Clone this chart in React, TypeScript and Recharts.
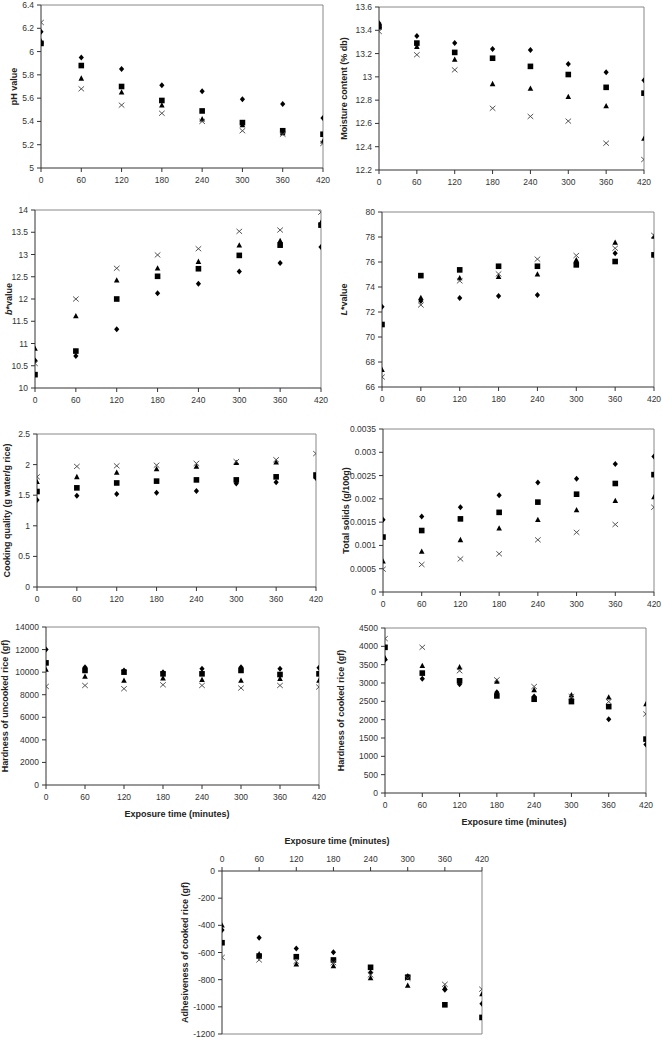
import React from 'react';
import { ScatterChart, Scatter, XAxis, YAxis, ReferenceLine } from 'recharts';

// ---------- data ----------
const TIME = [0, 60, 120, 180, 240, 300, 360, 420];

const phDiamond = [6.17, 5.95, 5.85, 5.71, 5.66, 5.59, 5.55, 5.43];
const phSquare = [6.07, 5.88, 5.7, 5.58, 5.49, 5.39, 5.32, 5.29];
const phTriangle = [6.09, 5.77, 5.65, 5.54, 5.42, 5.37, 5.3, 5.23];
const phCross = [6.25, 5.68, 5.54, 5.47, 5.4, 5.32, 5.29, 5.21];
const phTicks = [5, 5.2, 5.4, 5.6, 5.8, 6, 6.2, 6.4];

const mcDiamond = [13.46, 13.35, 13.29, 13.24, 13.23, 13.11, 13.04, 12.97];
const mcSquare = [13.43, 13.29, 13.21, 13.16, 13.09, 13.02, 12.91, 12.86];
const mcTriangle = [13.44, 13.26, 13.15, 12.94, 12.9, 12.83, 12.75, 12.47];
const mcCross = [13.39, 13.19, 13.06, 12.73, 12.66, 12.62, 12.43, 12.29];
const mcTicks = [12.2, 12.4, 12.6, 12.8, 13, 13.2, 13.4, 13.6];

const bDiamond = [10.62, 10.72, 11.32, 12.13, 12.34, 12.62, 12.81, 13.17];
const bSquare = [10.3, 10.83, 12.0, 12.51, 12.68, 12.98, 13.21, 13.66];
const bTriangle = [10.89, 11.62, 12.42, 12.69, 12.84, 13.21, 13.31, 13.72];
const bCross = [10.55, 12.0, 12.69, 12.99, 13.13, 13.52, 13.55, 13.95];
const bTicks = [10, 10.5, 11, 11.5, 12, 12.5, 13, 13.5, 14];

const lDiamond = [72.43, 72.88, 73.12, 73.28, 73.36, 75.9, 76.71, 76.57];
const lSquare = [71.0, 74.91, 75.37, 75.66, 75.66, 75.77, 76.04, 76.57];
const lTriangle = [67.39, 73.15, 74.73, 74.83, 75.02, 76.17, 77.56, 78.05];
const lCross = [66.8, 72.56, 74.49, 75.05, 76.23, 76.52, 77.1, 78.13];
const lTicks = [66, 68, 70, 72, 74, 76, 78, 80];

const cqDiamond = [1.42, 1.49, 1.52, 1.54, 1.57, 1.69, 1.71, 1.78];
const cqSquare = [1.56, 1.62, 1.7, 1.73, 1.75, 1.75, 1.8, 1.83];
const cqTriangle = [1.72, 1.8, 1.87, 1.93, 1.97, 2.03, 2.04, 1.81];
const cqCross = [1.8, 1.97, 1.98, 1.99, 2.02, 2.05, 2.08, 2.18];
const cqTicks = [0, 0.5, 1, 1.5, 2, 2.5];

const tsDiamond = [0.00155, 0.00162, 0.00182, 0.00208, 0.00235, 0.00243, 0.00275, 0.00291];
const tsSquare = [0.00118, 0.00132, 0.00157, 0.00171, 0.00193, 0.0021, 0.00233, 0.00252];
const tsTriangle = [0.00066, 0.00087, 0.00112, 0.00137, 0.00155, 0.00176, 0.00196, 0.00204];
const tsCross = [0.00049, 0.00059, 0.00071, 0.00082, 0.00112, 0.00128, 0.00145, 0.00182];
const tsTicks = [0, 0.0005, 0.001, 0.0015, 0.002, 0.0025, 0.003, 0.0035];

const huDiamond = [12000, 10440, 10150, 10000, 10290, 10440, 10290, 10380];
const huSquare = [10820, 10150, 10000, 9850, 9850, 10150, 9790, 9850];
const huTriangle = [10235, 9620, 9260, 9470, 9320, 9260, 9410, 9260];
const huCross = [8735, 8820, 8530, 8880, 8820, 8590, 8820, 8680];
const huTicks = [0, 2000, 4000, 6000, 8000, 10000, 12000, 14000];

const hcDiamond = [3635, 3114, 2968, 2749, 2630, 2539, 2009, 1324];
const hcSquare = [3973, 3270, 3059, 2648, 2557, 2493, 2356, 1470];
const hcTriangle = [3680, 3470, 3434, 3041, 2813, 2676, 2612, 2429];
const hcCross = [4210, 3973, 3333, 3087, 2904, 2630, 2493, 2155];
const hcTicks = [0, 500, 1000, 1500, 2000, 2500, 3000, 3500, 4000, 4500];

const adDiamond = [-435, -491, -570, -599, -748, -775, -875, -978];
const adSquare = [-528, -626, -631, -655, -709, -782, -985, -1078];
const adTriangle = [-399, -611, -687, -699, -787, -843, -860, -905];
const adCross = [-636, -655, -665, -675, -765, -790, -834, -870];
const adTicks = [-1200, -1000, -800, -600, -400, -200, 0];

// ---------- styling ----------
const FONT = '"Liberation Sans", Arial, sans-serif';
const tickStyle = { fontSize: 8.5, fill: '#333', fontFamily: FONT };
const titleStyle: React.CSSProperties = { fontSize: 9, fontWeight: 700, fill: '#222', fontFamily: FONT };

const DiamondShape = (p: any) => (
  <polygon
    points={`${p.cx},${p.cy - 3} ${p.cx + 2.6},${p.cy} ${p.cx},${p.cy + 3} ${p.cx - 2.6},${p.cy}`}
    fill="#000"
  />
);
const SquareShape = (p: any) => <rect x={p.cx - 2.8} y={p.cy - 2.8} width={5.6} height={5.6} fill="#000" />;
const TriangleShape = (p: any) => (
  <polygon points={`${p.cx},${p.cy - 3} ${p.cx + 2.8},${p.cy + 2.3} ${p.cx - 2.8},${p.cy + 2.3}`} fill="#000" />
);
const CrossShape = (p: any) => (
  <g stroke="#444" strokeWidth={0.9}>
    <line x1={p.cx - 2.8} y1={p.cy - 2.5} x2={p.cx + 2.8} y2={p.cy + 2.5} />
    <line x1={p.cx - 2.8} y1={p.cy + 2.5} x2={p.cx + 2.8} y2={p.cy - 2.5} />
  </g>
);

const toPts = (vals: number[]) => TIME.map((t, i) => ({ x: t, y: vals[i] }));

type PanelProps = {
  left: number;
  x0: number;
  x1: number;
  y0: number;
  y1: number;
  ticks: number[];
  title: React.ReactNode;
  titleX: number;
  series: number[][];
  xTitle?: string;
  xTitleX?: number;
  topAxis?: boolean;
};

function Panel({ left, x0, x1, y0, y1, ticks, title, titleX, series, xTitle, xTitleX, topAxis }: PanelProps) {
  const axisW = x0 - left;
  const width = x1 - left + 12;
  const height = y1 - y0 + 60;
  const chartTop = topAxis ? y0 - 40 : y0 - 20;
  const ymin = ticks[0];
  const ymax = ticks[ticks.length - 1];
  const cyTitle = (y0 + y1) / 2 - chartTop;
  const cxTitle = titleX - left;

  const yLabel = () => (
    <text
      x={cxTitle}
      y={cyTitle}
      transform={`rotate(-90 ${cxTitle} ${cyTitle})`}
      textAnchor="middle"
      dominantBaseline="central"
      style={titleStyle}
    >
      {title}
    </text>
  );
  const xLabel = () => {
    if (!xTitle) return null;
    const cx = (xTitleX ?? (x0 + x1) / 2) - left;
    const cy = topAxis ? y0 - 30 - chartTop : y1 + 29 - chartTop;
    return (
      <text x={cx} y={cy} textAnchor="middle" dominantBaseline="central" style={titleStyle}>
        {xTitle}
      </text>
    );
  };

  const shapes = [DiamondShape, SquareShape, TriangleShape, CrossShape];

  return (
    <div style={{ position: 'absolute', left, top: chartTop, width, height }}>
      <ScatterChart
        width={width}
        height={height}
        margin={{ top: topAxis ? 0 : 20, right: 12, bottom: topAxis ? 20 : 0, left: 0 }}
      >
        <XAxis
          type="number"
          dataKey="x"
          domain={[0, 420]}
          ticks={TIME}
          interval={0}
          orientation={topAxis ? 'top' : 'bottom'}
          height={40}
          tick={tickStyle}
          tickSize={4}
          tickMargin={5}
          axisLine={{ stroke: '#333' }}
          tickLine={{ stroke: '#333' }}
          allowDataOverflow
          label={xLabel}
        />
        <YAxis
          type="number"
          dataKey="y"
          domain={[ymin, ymax]}
          ticks={ticks}
          interval={0}
          width={axisW}
          tick={tickStyle}
          tickSize={4}
          tickMargin={3}
          axisLine={{ stroke: '#333' }}
          tickLine={{ stroke: '#333' }}
          allowDataOverflow
          label={yLabel}
        />
        <ReferenceLine y={topAxis ? ymin : ymax} stroke="#888" strokeWidth={1} />
        <ReferenceLine x={420} stroke="#888" strokeWidth={1} />
        {series.map((vals, i) => (
          <Scatter key={i} data={toPts(vals)} shape={shapes[i]} isAnimationActive={false} />
        ))}
      </ScatterChart>
    </div>
  );
}

export default function App() {
  return (
    <div style={{ position: 'absolute', left: 0, top: 0, width: 662, height: 1039, background: '#fff', fontFamily: FONT }}>
      <Panel left={0} x0={41} x1={323} y0={5} y1={168} ticks={phTicks} title="pH value" titleX={14}
        series={[phDiamond, phSquare, phTriangle, phCross]} />
      <Panel left={331} x0={379} x1={644} y0={7} y1={170} ticks={mcTicks} title="Moisture content (% db)" titleX={344}
        series={[mcDiamond, mcSquare, mcTriangle, mcCross]} />
      <Panel left={0} x0={35} x1={321} y0={210} y1={388} ticks={bTicks}
        title={<><tspan fontStyle="italic">b</tspan>*value</>} titleX={9}
        series={[bDiamond, bSquare, bTriangle, bCross]} />
      <Panel left={331} x0={382} x1={654} y0={212} y1={387} ticks={lTicks}
        title={<><tspan fontStyle="italic">L</tspan>*value</>} titleX={344}
        series={[lDiamond, lSquare, lTriangle, lCross]} />
      <Panel left={0} x0={37} x1={316} y0={434} y1={587} ticks={cqTicks} title="Cooking quality (g water/g rice)" titleX={7}
        series={[cqDiamond, cqSquare, cqTriangle, cqCross]} />
      <Panel left={331} x0={383} x1={654} y0={429} y1={592} ticks={tsTicks} title="Total solids (g/100g)" titleX={346}
        series={[tsDiamond, tsSquare, tsTriangle, tsCross]} />
      <Panel left={0} x0={46} x1={319} y0={627} y1={785} ticks={huTicks} title="Hardness of uncooked rice (gf)" titleX={5}
        series={[huDiamond, huSquare, huTriangle, huCross]} xTitle="Exposure time (minutes)" xTitleX={177} />
      <Panel left={331} x0={385} x1={646} y0={628} y1={793} ticks={hcTicks} title="Hardness of cooked rice (gf)" titleX={341}
        series={[hcDiamond, hcSquare, hcTriangle, hcCross]} xTitle="Exposure time (minutes)" xTitleX={514} />
      <Panel left={160} x0={222} x1={482} y0={871} y1={1034} ticks={adTicks} title="Adhesiveness of cooked rice (gf)" titleX={185}
        series={[adDiamond, adSquare, adTriangle, adCross]} xTitle="Exposure time (minutes)" xTitleX={337} topAxis />
    </div>
  );
}
